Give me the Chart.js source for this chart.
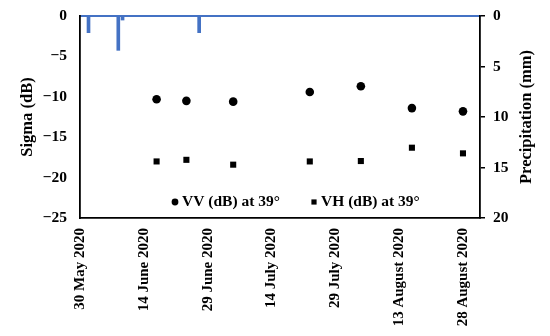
<!DOCTYPE html>
<html>
<head>
<meta charset="utf-8">
<script src="https://cdn.jsdelivr.net/npm/chart.js@4/dist/chart.umd.min.js"></script>
<style>
  html, body { margin: 0; padding: 0; background: #fff; }
  #chart { display: block; }
</style>
</head>
<body>
<canvas id="chart" width="550" height="336"></canvas>
<script>
// ---- data ----
const startDate = [2020, 4, 30];          // 30 May 2020, left edge of the date axis
const axisDays = 94;                       // axis runs to ~1 Sep 2020
const monthNames = ['January', 'February', 'March', 'April', 'May', 'June', 'July',
                    'August', 'September', 'October', 'November', 'December'];

const sarDates = ['2020-06-17', '2020-06-24', '2020-07-05', '2020-07-23', '2020-08-04', '2020-08-16', '2020-08-28'];
const vvValues = [-10.3, -10.5, -10.6, -9.4, -8.7, -11.4, -11.8];
const vhValues = [-18.0, -17.8, -18.4, -18.0, -17.95, -16.3, -17.0];

const rainDates = ['2020-06-01', '2020-06-08', '2020-06-09', '2020-06-27'];
const rainValues = [1.65, 3.4, 0.4, 1.65];

const sigmaTicks = [0, -5, -10, -15, -20, -25];
const rainTicks = [0, 5, 10, 15, 20];

// ---- helpers ----
const dayZero = Date.UTC(startDate[0], startDate[1], startDate[2]);
function toDay(iso) {
    const p = iso.split('-').map(Number);
    return Math.round((Date.UTC(p[0], p[1] - 1, p[2]) - dayZero) / 86400000);
}
function dayLabel(d) {
    const dt = new Date(dayZero + d * 86400000);
    return dt.getUTCDate() + ' ' + monthNames[dt.getUTCMonth()] + ' ' + dt.getUTCFullYear();
}
const pairs = (xs, ys) => xs.map((x, i) => ({ x: toDay(x), y: ys[i] }));
// fixed box sizes so the plot sits where it does in the figure
const fitBox = (w, h) => s => {
    if (w !== null) s.width = w;
    if (h !== null) s.height = h;
    s.paddingTop = 0; s.paddingBottom = 0; s.paddingLeft = 0; s.paddingRight = 0;
};

const FONT = "'Liberation Serif', 'Times New Roman', serif";
const BLUE = '#4472C4';

// legend drawn inside the plot, near the bottom
const innerLegend = {
    id: 'innerLegend',
    afterDraw(chart) {
        const ctx = chart.ctx;
        const a = chart.chartArea;
        const y = a.bottom - 16;
        ctx.save();
        ctx.fillStyle = '#000';
        ctx.font = "bold 15.5px " + FONT;
        ctx.textBaseline = 'middle';
        ctx.textAlign = 'left';
        chart.data.datasets.forEach(ds => {
            if (!ds.legendX) return;
            const x = a.left + ds.legendX;
            ctx.beginPath();
            if (ds.pointStyle === 'rect') {
                ctx.rect(x - 2.6, y - 2.6, 5.2, 5.2);
            } else {
                ctx.arc(x, y, 3.4, 0, Math.PI * 2);
            }
            ctx.fill();
            ctx.fillText(ds.label, x + 7, y);
        });
        ctx.restore();
    }
};

// right axis title reads bottom-to-top like the left one
const rightTitle = {
    id: 'rightTitle',
    afterDraw(chart) {
        const ctx = chart.ctx;
        const a = chart.chartArea;
        ctx.save();
        ctx.translate(527, (a.top + a.bottom) / 2);
        ctx.rotate(-Math.PI / 2);
        ctx.fillStyle = '#000';
        ctx.font = "bold 16.5px " + FONT;
        ctx.textAlign = 'center';
        ctx.textBaseline = 'middle';
        ctx.fillText('Precipitation (mm)', 0, 0);
        ctx.restore();
    }
};

new Chart(document.getElementById('chart'), {
    type: 'scatter',
    data: {
        datasets: [
            {
                type: 'bar',
                label: 'Precipitation (mm)',
                data: pairs(rainDates, rainValues),
                xAxisID: 'x',
                yAxisID: 'y2',
                backgroundColor: BLUE,
                borderWidth: 0,
                barThickness: 3
            },
            {
                label: 'VV (dB) at 39°',
                data: pairs(sarDates, vvValues),
                yAxisID: 'y',
                pointStyle: 'circle',
                pointRadius: 4.3,
                backgroundColor: '#000',
                borderWidth: 0,
                legendX: 95
            },
            {
                label: 'VH (dB) at 39°',
                data: pairs(sarDates, vhValues),
                yAxisID: 'y',
                pointStyle: 'rect',
                pointRadius: 4.3,
                backgroundColor: '#000',
                borderWidth: 0,
                legendX: 234
            }
        ]
    },
    options: {
        responsive: false,
        animation: false,
        devicePixelRatio: 1,
        layout: { padding: { top: 16, left: 0, right: 0, bottom: 0 } },
        scales: {
            x: {
                type: 'linear',
                position: 'bottom',
                min: 0,
                max: axisDays,
                offset: false,
                afterBuildTicks: s => { s.ticks = [0, 15, 30, 45, 60, 75, 90].map(v => ({ value: v })); },
                afterFit: fitBox(null, 118),
                grid: { display: false, drawTicks: false },
                border: { display: true, color: '#000', width: 1.8 },
                ticks: {
                    autoSkip: false,
                    minRotation: 90,
                    maxRotation: 90,
                    padding: 10,
                    color: '#000',
                    font: { family: FONT, size: 15, weight: 'bold' },
                    callback: v => dayLabel(v)
                }
            },
            xTop: {
                type: 'linear',
                position: 'top',
                min: 0,
                max: axisDays,
                afterFit: fitBox(null, 0),
                grid: { display: false, drawTicks: false },
                border: { display: true, color: BLUE, width: 2 },
                ticks: { display: false }
            },
            y: {
                position: 'left',
                min: -25,
                max: 0,
                afterBuildTicks: s => { s.ticks = sigmaTicks.map(v => ({ value: v })); },
                afterFit: fitBox(80, null),
                grid: { display: false, drawTicks: false },
                border: { display: true, color: '#000', width: 1.8 },
                ticks: {
                    padding: 13,
                    color: '#000',
                    font: { family: FONT, size: 15.5, weight: 'bold' },
                    callback: v => v < 0 ? '\u2212' + Math.abs(v) : String(v)
                },
                title: {
                    display: true,
                    text: 'Sigma (dB)',
                    color: '#000',
                    padding: { top: 18, bottom: 0 },
                    font: { family: FONT, size: 16.5, weight: 'bold' }
                }
            },
            y2: {
                position: 'right',
                min: 0,
                max: 20,
                reverse: true,
                afterBuildTicks: s => { s.ticks = rainTicks.map(v => ({ value: v })); },
                afterFit: fitBox(70, null),
                grid: {
                    display: true,
                    drawOnChartArea: false,
                    drawTicks: true,
                    tickLength: 5,
                    color: '#000',
                    lineWidth: 1.5
                },
                border: { display: true, color: '#000', width: 1.8 },
                ticks: {
                    padding: 8,
                    color: '#000',
                    font: { family: FONT, size: 15.5, weight: 'bold' }
                }
            }
        },
        plugins: {
            legend: { display: false },
            tooltip: { enabled: false }
        }
    },
    plugins: [innerLegend, rightTitle]
});
</script>
</body>
</html>
